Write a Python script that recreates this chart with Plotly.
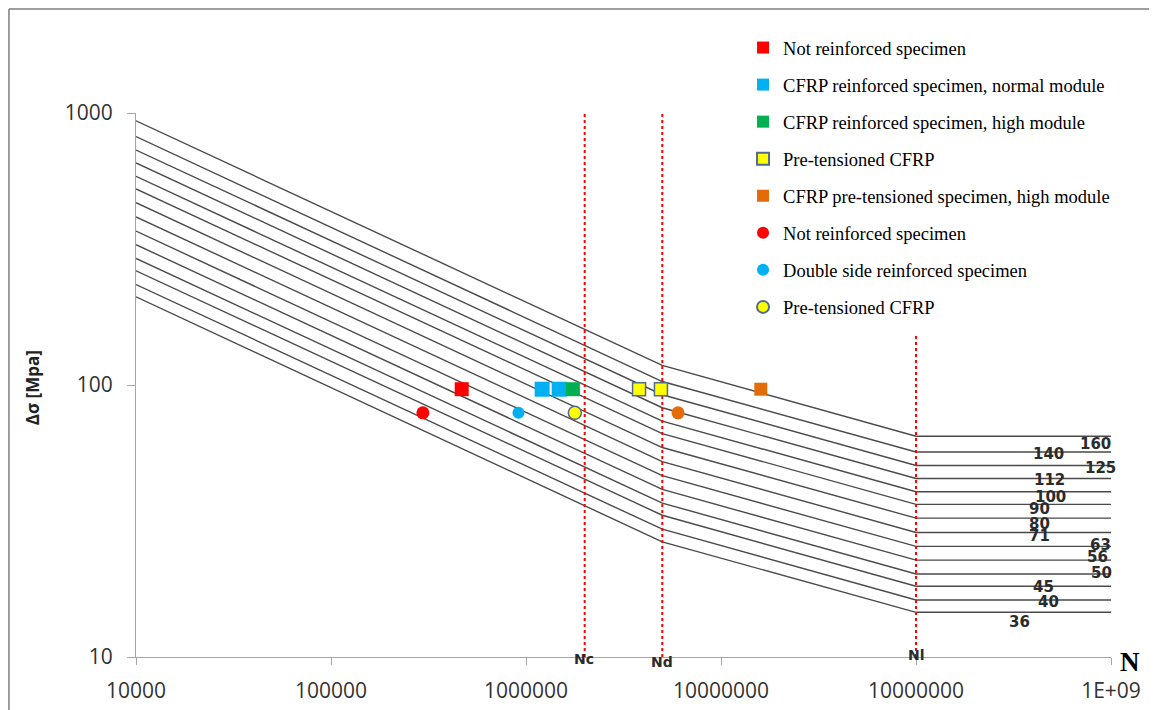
import plotly.graph_objects as go

# ---------------- data ----------------
categories = [160, 140, 125, 112, 100, 90, 80, 71, 63, 56, 50, 45, 40, 36]
N_breaks = [1e4, 5e6, 1e8, 1e9]
stress_at_1e4 = [936, 819, 731, 655, 585, 526, 468, 415, 368, 328, 292, 263, 234, 211]
stress_at_Nd = [118, 103, 92.1, 82.5, 73.7, 66.3, 58.9, 52.3, 46.4, 41.3, 36.8, 33.2, 29.5, 26.5]
stress_at_Nl = [64.8, 56.7, 50.6, 45.3, 40.5, 36.4, 32.4, 28.7, 25.5, 22.7, 20.2, 18.2, 16.2, 14.6]

# category label positions (log10 N, log10 stress)
label_x = [8.923, 8.682, 8.944, 8.687, 8.692, 8.631, 8.631, 8.631, 8.944, 8.933, 8.951, 8.656, 8.677, 8.533]
label_y = [1.783, 1.746, 1.696, 1.651, 1.589, 1.544, 1.489, 1.446, 1.412, 1.368, 1.309, 1.258, 1.203, 1.130]

Nc, Nd, Nl = 2e6, 5e6, 1e8
Nc_top, Nd_top, Nl_top = 1000, 1000, 153

# test points
sq_red_N, sq_red_S = [4.68e5], [96.5]
sq_blue_N, sq_blue_S = [1.21e6, 1.48e6], [96.5, 96.5]
sq_green_N, sq_green_S = [1.74e6], [96.5]
sq_yellow_N, sq_yellow_S = [3.80e6, 4.92e6], [96.5, 96.5]
sq_orange_N, sq_orange_S = [1.60e7], [96.5]
ci_red_N, ci_red_S = [2.96e5], [79]
ci_blue_N, ci_blue_S = [9.15e5], [79]
ci_yellow_N, ci_yellow_S = [1.78e6], [79]
ci_orange_N, ci_orange_S = [6.02e6], [79]

x_tickvals = [1e4, 1e5, 1e6, 1e7, 1e8, 1e9]
x_ticktext = ["10000", "100000", "1000000", "10000000", "10000000", "1E+09"]
y_tickvals = [10, 100, 1000]
y_ticktext = ["10", "100", "1000"]

# ---------------- figure ----------------
fig = go.Figure()

for c, s0, s1, s2 in zip(categories, stress_at_1e4, stress_at_Nd, stress_at_Nl):
    fig.add_trace(go.Scatter(
        x=N_breaks, y=[s0, s1, s2, s2], mode="lines",
        line=dict(color="#4a4a4a", width=1.4), showlegend=False, hoverinfo="skip"))

# vertical dotted reference lines
for xv, top in [(Nc, Nc_top), (Nd, Nd_top), (Nl, Nl_top)]:
    fig.add_trace(go.Scatter(
        x=[xv, xv], y=[10, top], mode="lines",
        line=dict(color="#FF0000", width=2, dash="dot"), showlegend=False, hoverinfo="skip"))

yellow_line = dict(color="#4F6B8F", width=1.5)
series = [
    ("Not reinforced specimen", sq_red_N, sq_red_S, "square", "#FF0000", None, 14, True),
    ("CFRP reinforced specimen, normal module", sq_blue_N, sq_blue_S, "square", "#00B0F0", None, 15, True),
    ("CFRP reinforced specimen, high module", sq_green_N, sq_green_S, "square", "#00B050", None, 14, True),
    ("Pre-tensioned CFRP", sq_yellow_N, sq_yellow_S, "square", "#FFFF00", yellow_line, 13, True),
    ("CFRP pre-tensioned specimen, high module", sq_orange_N, sq_orange_S, "square", "#E36C09", None, 13, True),
    ("Not reinforced specimen ", ci_red_N, ci_red_S, "circle", "#FF0000", None, 13, True),
    ("Double side reinforced specimen", ci_blue_N, ci_blue_S, "circle", "#00B0F0", None, 12, True),
    ("Pre-tensioned CFRP ", ci_yellow_N, ci_yellow_S, "circle", "#FFFF00", yellow_line, 13, True),
    ("orange circle", ci_orange_N, ci_orange_S, "circle", "#E36C09", None, 13, False),
]
for i, (name, xs, ys, sym, col, ln, sz, show) in enumerate(series):
    fig.add_trace(go.Scatter(
        x=xs, y=ys, mode="markers", name=name.strip() if show else name,
        legendgroup="g%d" % i, showlegend=show,
        marker=dict(symbol=sym, color=col, size=sz,
                    line=ln if ln else dict(width=0))))

annotations = []
for c, lx, ly in zip(categories, label_x, label_y):
    annotations.append(dict(x=lx, y=ly, xref="x", yref="y", text="<b>%d</b>" % c,
                            showarrow=False, font=dict(family="DejaVu Sans", size=15, color="#2b2b2b")))
for txt, xv, yv in [("Nc", 6.297, -0.004), ("Nd", 6.697, -0.009), ("Nl", 8.0, 0.003)]:
    annotations.append(dict(x=xv, y=yv, xref="x", yref="paper", text="<b>%s</b>" % txt,
                            xanchor="center", yanchor="middle",
                            showarrow=False, font=dict(family="DejaVu Sans", size=14, color="#2b2b2b")))
annotations.append(dict(x=-0.1067, y=0.496, xref="paper", yref="paper", text="<b>Δσ [Mpa]</b>",
                        textangle=-90, showarrow=False, xanchor="center", yanchor="middle",
                        font=dict(family="Open Sans", size=17, color="#222222")))
annotations.append(dict(x=1.0195, y=-0.009, xref="paper", yref="paper", text="<b>N</b>",
                        showarrow=False, xanchor="center", yanchor="middle",
                        font=dict(family="Liberation Serif", size=27, color="#000000")))

shapes = [
    dict(type="line", xref="paper", yref="paper", x0=-0.1303, x1=-0.1303, y0=1.191, y1=-0.12,
         line=dict(color="#7f7f7f", width=1.5)),
    dict(type="line", xref="paper", yref="paper", x0=-0.1303, x1=1.06, y0=1.191, y1=1.191,
         line=dict(color="#7f7f7f", width=1.5)),
]

axis_font = dict(family="Open Sans", size=21, color="#333333")
fig.update_layout(
    width=1157, height=710,
    margin=dict(l=128, r=54, t=105, b=61, autoexpand=False),
    paper_bgcolor="white", plot_bgcolor="white",
    xaxis=dict(type="log", range=[4, 9], tickvals=x_tickvals, ticktext=x_ticktext,
               showgrid=False, zeroline=False, showline=True, linecolor="#A6A6A6", linewidth=1.2,
               ticks="outside", ticklen=7, tickcolor="#A6A6A6", tickfont=axis_font,
               ticklabelstandoff=8, automargin=False),
    yaxis=dict(type="log", range=[1, 3], tickvals=y_tickvals, ticktext=y_ticktext,
               showgrid=False, zeroline=False, showline=True, linecolor="#A6A6A6", linewidth=1.2,
               ticks="outside", ticklen=8, tickcolor="#A6A6A6", tickfont=axis_font,
               ticklabelstandoff=10, automargin=False),
    legend=dict(x=0.6353, y=0.9704, xref="container", yref="container",
                xanchor="left", yanchor="top",
                font=dict(family="Liberation Serif", size=18.5, color="#000000"),
                traceorder="grouped", tracegroupgap=10, itemsizing="constant",
                bgcolor="rgba(0,0,0,0)"),
    showlegend=True,
    annotations=annotations,
    shapes=shapes,
)

fig.write_html("out.html")
